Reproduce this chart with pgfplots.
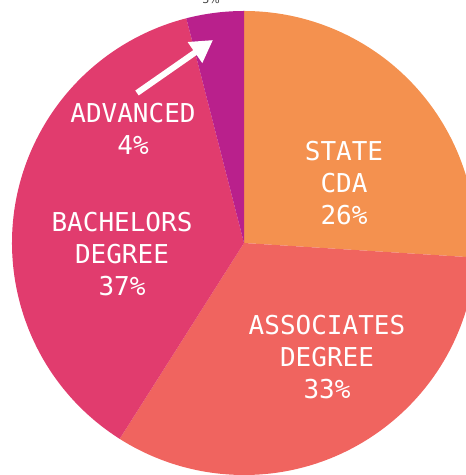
\documentclass[border=0pt]{standalone}
\usepackage{fontspec}
\usepackage{pgfplots}
\usepackage{pgfplotstable}
\pgfplotsset{compat=1.18}
\usetikzlibrary{arrows.meta}
\newfontfamily\lbl{DejaVu Sans Mono}
\setmainfont{DejaVu Sans}
\definecolor{cState}{HTML}{F4914F}
\definecolor{cAssoc}{HTML}{F0645F}
\definecolor{cBach}{HTML}{E13C6E}
\definecolor{cAdv}{HTML}{B9208C}
\pgfplotstableread{
value color
26 cState
33 cAssoc
37 cBach
4 cAdv
}\piedata
\begin{document}
\begin{tikzpicture}
\begin{axis}[
  x=1bp, y=1bp,
  xmin=-244, xmax=222, ymin=-232, ymax=243,
  hide axis, clip=true, clip mode=global,
  scale only axis,
]
\xdef\startang{90}
\pgfplotsforeachungrouped \i in {0,...,3} {
  \pgfplotstablegetelem{\i}{value}\of\piedata \let\v\pgfplotsretval
  \pgfplotstablegetelem{\i}{color}\of\piedata \let\c\pgfplotsretval
  \pgfmathsetmacro\endang{\startang - 3.6*\v}
  \pgfmathsetmacro\sx{232*cos(\startang)}
  \pgfmathsetmacro\sy{232*sin(\startang)}
  \edef\temp{\noexpand\fill[\c] (axis cs:0,0) -- (axis cs:\sx,\sy) arc[start angle=\startang, end angle=\endang, radius=232] -- cycle;}
  \temp
  \xdef\startang{\endang}
}
\draw[white, line width=6bp, -{Triangle[length=22bp, width=24bp]}] (axis cs:-107,150) -- (axis cs:-31,203);
\node[text=black!75, font=\fontsize{11bp}{13bp}\selectfont, anchor=base] at (axis cs:-33,239) {3\%};
\begin{scope}[every node/.style={text=white, align=center, inner sep=0pt, font=\lbl\fontsize{26bp}{32bp}\selectfont}]
\node at (axis cs:100,60) {STATE\\CDA\\26\%};
\node at (axis cs:83,-114) {ASSOCIATES\\DEGREE\\33\%};
\node at (axis cs:-122,-11) {BACHELORS\\DEGREE\\37\%};
\node at (axis cs:-111,114) {ADVANCED\\4\%};
\end{scope}
\end{axis}
\pgfresetboundingbox
\useasboundingbox (current axis.south west) rectangle (current axis.north east);
\end{tikzpicture}
\end{document}
